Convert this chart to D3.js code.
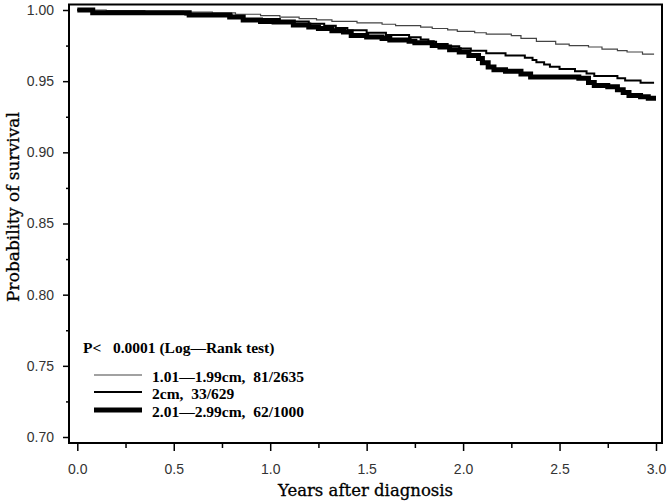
<!DOCTYPE html>
<html>
<head>
<meta charset="utf-8">
<script src="https://cdn.jsdelivr.net/npm/d3@7"></script>
<style>
  body { margin: 0; background: #fff; }
  svg { display: block; }
  text { white-space: pre; }
</style>
</head>
<body>
<svg id="chart" width="669" height="503"></svg>
<script>
// survival curves (years, probability)
const thinTimes = [0, 0.15, 0.35, 0.55, 0.70, 0.82, 0.95, 1.05, 1.15, 1.24, 1.32, 1.45, 1.58, 1.65, 1.78, 1.84, 1.92, 1.97, 2.06, 2.12, 2.25, 2.30, 2.38, 2.48, 2.55, 2.65, 2.72, 2.80, 2.85, 2.93, 2.99];
const thinSurv = [1.000, 0.9995, 0.999, 0.9985, 0.998, 0.997, 0.996, 0.995, 0.994, 0.993, 0.992, 0.991, 0.990, 0.989, 0.988, 0.987, 0.986, 0.985, 0.984, 0.983, 0.982, 0.980, 0.978, 0.976, 0.975, 0.974, 0.9725, 0.9715, 0.9705, 0.969, 0.969];

const midTimes = [0, 0.08, 0.56, 0.80, 0.86, 1.05, 1.20, 1.28, 1.34, 1.40, 1.50, 1.60, 1.72, 1.78, 1.82, 1.86, 1.92, 1.98, 2.04, 2.12, 2.22, 2.32, 2.36, 2.38, 2.42, 2.45, 2.50, 2.58, 2.64, 2.68, 2.80, 2.84, 2.92, 2.99];
const midSurv = [1.000, 0.9984, 0.9968, 0.9952, 0.9936, 0.9920, 0.9904, 0.9889, 0.9873, 0.9857, 0.9841, 0.9825, 0.9809, 0.9793, 0.9777, 0.9761, 0.9745, 0.9729, 0.9713, 0.9697, 0.9681, 0.9665, 0.9649, 0.9633, 0.9617, 0.9601, 0.9585, 0.9569, 0.9553, 0.9537, 0.9521, 0.9505, 0.9489, 0.9489];

const thickTimes = [0, 0.08, 0.58, 0.79, 0.86, 0.95, 1.02, 1.12, 1.20, 1.25, 1.32, 1.38, 1.42, 1.50, 1.58, 1.62, 1.72, 1.75, 1.84, 1.88, 1.93, 1.98, 2.03, 2.08, 2.10, 2.13, 2.16, 2.22, 2.30, 2.35, 2.60, 2.65, 2.68, 2.75, 2.80, 2.83, 2.86, 2.92, 2.96, 3.00];
const thickSurv = [1.000, 0.998, 0.9965, 0.995, 0.993, 0.992, 0.9915, 0.9895, 0.988, 0.987, 0.9855, 0.9845, 0.982, 0.981, 0.980, 0.979, 0.978, 0.977, 0.975, 0.974, 0.972, 0.9705, 0.968, 0.966, 0.963, 0.960, 0.958, 0.957, 0.955, 0.953, 0.952, 0.949, 0.947, 0.946, 0.944, 0.942, 0.940, 0.939, 0.938, 0.938];

const seriesLabels = ['1.01\u20141.99cm,  81/2635', '2cm,  33/629', '2.01\u20142.99cm,  62/1000'];
const pValueText = 'P<   0.0001 (Log\u2014Rank test)';

const xTickValues = [0, 0.5, 1.0, 1.5, 2.0, 2.5, 3.0];
const xMinorValues = [0.25, 0.75, 1.25, 1.75, 2.25, 2.75];
const yTickValues = [0.70, 0.75, 0.80, 0.85, 0.90, 0.95, 1.00];
const yMinorValues = [0.725, 0.775, 0.825, 0.875, 0.925, 0.975];

const svg = d3.select('#chart');

const frame = { left: 69, right: 662, top: 4.5, bottom: 443 };

const x = d3.scaleLinear().domain([0, 3]).range([77.3, 656]);
const y = d3.scaleLinear().domain([0.70, 1.00]).range([437, 10]);

// axes
const axisX = d3.axisBottom(x).tickValues(xTickValues).tickFormat(d3.format('.1f')).tickSize(8).tickPadding(13);
const axisXMinor = d3.axisBottom(x).tickValues(xMinorValues).tickFormat('').tickSize(5);
const axisY = d3.axisLeft(y).tickValues(yTickValues).tickFormat(d3.format('.2f')).tickSize(6).tickPadding(9);
const axisYMinor = d3.axisLeft(y).tickValues(yMinorValues).tickFormat('').tickSize(3);

function styleAxis(g) {
  g.select('.domain').remove();
  g.selectAll('line').attr('stroke', '#000').attr('stroke-width', 1.5);
  g.selectAll('text')
    .attr('fill', '#333')
    .style('font-family', '"Liberation Sans", Arial, sans-serif')
    .style('font-size', '14px');
}

svg.append('g').attr('transform', `translate(0, ${ frame.bottom })`).call(axisX).call(styleAxis);
svg.append('g').attr('transform', `translate(0, ${ frame.bottom })`).call(axisXMinor).call(styleAxis);
svg.append('g').attr('transform', `translate(${ frame.left }, 0)`).call(axisY).call(styleAxis);
svg.append('g').attr('transform', `translate(${ frame.left }, 0)`).call(axisYMinor).call(styleAxis);

// frame
svg.append('rect')
  .attr('x', frame.left)
  .attr('y', frame.top)
  .attr('width', frame.right - frame.left)
  .attr('height', frame.bottom - frame.top)
  .attr('fill', 'none')
  .attr('stroke', '#000')
  .attr('stroke-width', 2);

// axis titles
svg.append('text')
  .attr('x', (frame.left + frame.right) / 2)
  .attr('y', 496)
  .attr('text-anchor', 'middle')
  .attr('stroke', '#000')
  .attr('stroke-width', 0.3)
  .style('font-family', '"DejaVu Serif", serif')
  .style('font-size', '16.5px')
  .text('Years after diagnosis');

svg.append('text')
  .attr('transform', 'translate(19, 207) rotate(-90)')
  .attr('text-anchor', 'middle')
  .attr('stroke', '#000')
  .attr('stroke-width', 0.3)
  .style('font-family', '"DejaVu Serif", serif')
  .style('font-size', '17px')
  .text('Probability of survival');

// curves
const series = [
  { times: thinTimes, surv: thinSurv, color: '#444', width: 1.2 },
  { times: midTimes, surv: midSurv, color: '#000', width: 2 },
  { times: thickTimes, surv: thickSurv, color: '#000', width: 5 },
];

const line = d3.line()
  .x((d) => x(d[0]))
  .y((d) => y(d[1]))
  .curve(d3.curveStepAfter);

series.forEach((s) => {
  svg.append('path')
    .datum(s.times.map((t, i) => [t, s.surv[i]]))
    .attr('d', line)
    .attr('fill', 'none')
    .attr('stroke', s.color)
    .attr('stroke-width', s.width);
});

// legend
const legendFont = '"Liberation Serif", "Times New Roman", serif';
svg.append('text')
  .attr('x', 83)
  .attr('y', 353)
  .style('font-family', legendFont)
  .style('font-weight', 'bold')
  .style('font-size', '15.5px')
  .text(pValueText);

const legendY = [375, 392, 410];
series.forEach((s, i) => {
  svg.append('line')
    .attr('x1', 94).attr('x2', 142)
    .attr('y1', legendY[i]).attr('y2', legendY[i])
    .attr('stroke', s.color)
    .attr('stroke-width', s.width);
  svg.append('text')
    .attr('x', 152)
    .attr('y', legendY[i] + 7)
    .style('font-family', legendFont)
    .style('font-weight', 'bold')
    .style('font-size', '15.5px')
    .text(seriesLabels[i]);
});
</script>
</body>
</html>
